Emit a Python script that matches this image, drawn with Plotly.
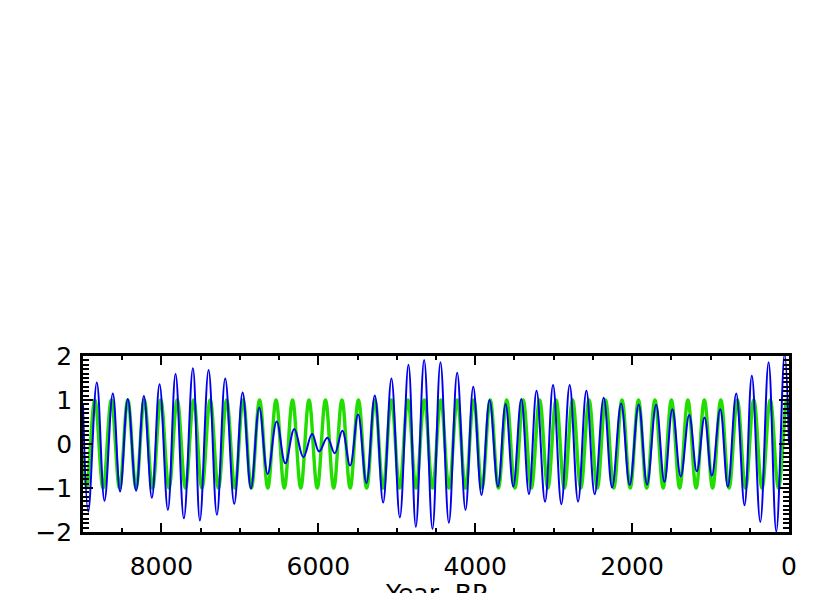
import plotly.graph_objects as go

# ---- data ----
# green: regular cycle (extrema), years BP and values
green_years = [0, 29, 134, 239, 344, 449, 554, 659, 764, 869, 974, 1079, 1184, 1289, 1394,
               1499, 1604, 1709, 1814, 1919, 2024, 2129, 2234, 2339, 2444, 2549, 2654, 2759,
               2864, 2969, 3074, 3179, 3284, 3389, 3494, 3599, 3704, 3809, 3914, 4019, 4124,
               4229, 4334, 4439, 4544, 4649, 4754, 4859, 4964, 5069, 5174, 5279, 5384, 5489,
               5594, 5699, 5804, 5909, 6014, 6119, 6224, 6329, 6434, 6539, 6644, 6749, 6854,
               6959, 7064, 7169, 7274, 7379, 7484, 7589, 7694, 7799, 7904, 8009, 8114, 8219,
               8324, 8429, 8534, 8639, 8744, 8849, 8954, 9000]
green_values = [0.65, 1, -1, 1, -1, 1, -1, 1, -1, 1, -1, 1, -1, 1, -1,
                1, -1, 1, -1, 1, -1, 1, -1, 1, -1, 1, -1, 1,
                -1, 1, -1, 1, -1, 1, -1, 1, -1, 1, -1, 1, -1,
                1, -1, 1, -1, 1, -1, 1, -1, 1, -1, 1, -1, 1,
                -1, 1, -1, 1, -1, 1, -1, 1, -1, 1, -1, 1, -1,
                1, -1, 1, -1, 1, -1, 1, -1, 1, -1, 1, -1, 1,
                -1, 1, -1, 1, -1, 1, -1, -0.19]

# blue: amplitude-modulated series (extrema), years BP and values
blue_years = [0, 56, 162, 260, 366, 474, 567, 673, 780, 877, 984, 1077, 1175, 1272, 1380,
              1486, 1588, 1694, 1809, 1916, 2031, 2140, 2255, 2362, 2477, 2583, 2689, 2796,
              2902, 3008, 3110, 3218, 3315, 3413, 3515, 3613, 3710, 3817, 3920, 4025, 4124,
              4230, 4336, 4443, 4545, 4651, 4757, 4851, 4961, 5068, 5174, 5280, 5387, 5493,
              5595, 5694, 5791, 5885, 5991, 6080, 6191, 6306, 6421, 6531, 6646, 6753, 6859,
              6965, 7072, 7187, 7293, 7399, 7510, 7599, 7714, 7820, 7918, 8024, 8122, 8224,
              8323, 8429, 8527, 8620, 8726, 8824, 8933, 9000]
blue_values = [0.0, 2.05, -1.99, 1.86, -1.77, 1.55, -1.39, 1.15, -0.97, 0.79, -0.72, 0.60, -0.62, 0.66, -0.74,
               0.79, -0.86, 0.89, -0.92, 0.90, -0.93, 0.92, -0.99, 1.05, -1.14, 1.21, -1.31, 1.34,
               -1.37, 1.34, -1.31, 1.21, -1.14, 1.02, -0.97, 0.91, -0.97, 1.00, -1.16, 1.30, -1.50,
               1.62, -1.79, 1.86, -1.93, 1.91, -1.88, 1.80, -1.67, 1.49, -1.33, 1.10, -0.89, 0.67,
               -0.49, 0.30, -0.21, 0.14, -0.17, 0.23, -0.30, 0.34, -0.44, 0.51, -0.68, 0.83, -1.01,
               1.17, -1.36, 1.49, -1.61, 1.68, -1.74, 1.72, -1.69, 1.59, -1.50, 1.36, -1.22, 1.09,
               -1.06, 1.02, -1.08, 1.15, -1.29, 1.40, -1.54, 0.89]

x_tick_vals = [8000, 6000, 4000, 2000, 0]
x_tick_text = ["8000", "6000", "4000", "2000", "0"]
y_tick_vals = [-2, -1, 0, 1, 2]
x_title = "Year, BP"

fig = go.Figure()
fig.add_trace(go.Scatter(x=green_years, y=green_values, mode="lines",
                         line=dict(color="#22dd00", width=3.4, shape="spline", smoothing=1.1),
                         hoverinfo="skip"))
fig.add_trace(go.Scatter(x=blue_years, y=blue_values, mode="lines",
                         line=dict(color="#0000ee", width=2, shape="spline", smoothing=1.1),
                         hoverinfo="skip"))

fig.update_layout(
    width=830, height=593,
    margin=dict(l=75, r=49, t=348, b=69),
    paper_bgcolor="white", plot_bgcolor="white",
    showlegend=False,
    font=dict(family="DejaVu Sans", size=25, color="black"),
)
fig.update_xaxes(
    range=[9000, 0], tickvals=x_tick_vals, ticktext=x_tick_text,
    ticks="inside", ticklen=9, tickwidth=2, tickcolor="black",
    showline=True, linewidth=2.5, linecolor="black", mirror="ticks",
    showgrid=False, zeroline=False, ticklabelstandoff=10,
    minor=dict(dtick=500, tick0=0, ticks="inside", ticklen=4, tickwidth=2, tickcolor="black"),
    automargin=False,
)
fig.update_yaxes(
    range=[-2, 2], tickvals=y_tick_vals,
    ticks="inside", ticklen=10, tickwidth=2, tickcolor="black",
    showline=True, linewidth=2.5, linecolor="black", mirror="ticks",
    showgrid=False, zeroline=False,
    minor=dict(dtick=0.1, tick0=0, ticks="inside", ticklen=6, tickwidth=2, tickcolor="black"),
    automargin=False, ticklabelstandoff=3,
)
# x-axis title, placed below the tick labels (partly beyond the window edge as in the reference)
fig.add_annotation(text=x_title, xref="paper", yref="paper", x=0.5, y=0,
                   xanchor="center", yanchor="top", yshift=-45, showarrow=False,
                   font=dict(family="DejaVu Sans", size=25, color="black"))

fig.write_html("out.html")
